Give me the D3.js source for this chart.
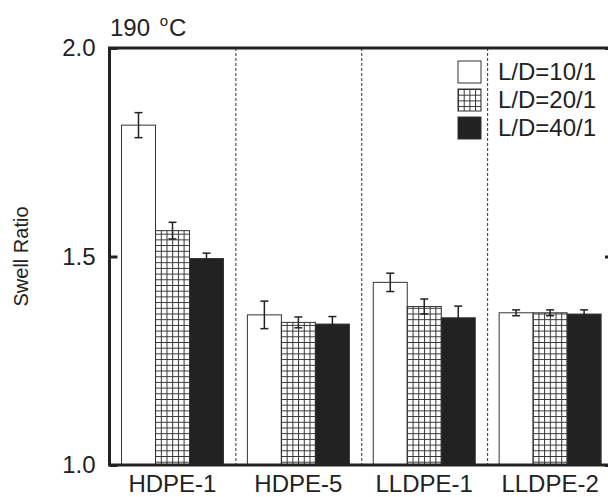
<!DOCTYPE html>
<html lang="en">
<head>
    <meta charset="UTF-8">
    <title>Swell Ratio</title>
    <script src="https://d3js.org/d3.v7.min.js"></script>
    <style>
        body { margin: 0; background: #fff; }
        text { font-family: "Liberation Sans", Arial, sans-serif; fill: #222; }
    </style>
</head>
<body>
    <div id="plot-container"></div>

    <script>
        // data
        const categories = ["HDPE-1", "HDPE-5", "LLDPE-1", "LLDPE-2"];
        const seriesNames = ["L/D=10/1", "L/D=20/1", "L/D=40/1"];
        const ld10 = [1.815, 1.360, 1.438, 1.365];
        const ld10Err = [0.030, 0.033, 0.022, 0.007];
        const ld20 = [1.562, 1.342, 1.380, 1.365];
        const ld20Err = [0.020, 0.013, 0.018, 0.007];
        const ld40 = [1.495, 1.338, 1.353, 1.362];
        const ld40Err = [0.013, 0.018, 0.028, 0.010];
        const yTicks = [1.0, 1.5, 2.0];
        const titleText = "190 ";

        const values = [ld10, ld20, ld40];
        const errors = [ld10Err, ld20Err, ld40Err];

        const width = 608, height = 497;
        const mLeft = 109.5, mRight = 613, mTop = 48, mBottom = 465;

        const svg = d3.select("#plot-container")
            .append("svg")
            .attr("width", width)
            .attr("height", height);

        // hatch pattern for the middle series
        const pat = svg.append("defs").append("pattern")
            .attr("id", "grid")
            .attr("patternUnits", "userSpaceOnUse")
            .attr("width", 5.7)
            .attr("height", 5.7);
        pat.append("rect").attr("width", 5.7).attr("height", 5.7).attr("fill", "#fff");
        pat.append("path")
            .attr("d", "M0.5,0V5.7M0,0.5H5.7")
            .attr("stroke", "#333")
            .attr("stroke-width", 1);

        const fills = ["#fff", "url(#grid)", "#222"];

        const x = d3.scaleBand().domain(categories).range([mLeft, mRight]);
        const xs = d3.scaleBand().domain(d3.range(seriesNames.length)).range([12, 114]);
        const y = d3.scaleLinear().domain([1, 2]).range([mBottom, mTop]);

        // dashed group separators
        svg.selectAll("line.sep")
            .data(categories.slice(1))
            .enter()
            .append("line")
            .attr("class", "sep")
            .attr("x1", d => x(d) + 0.5)
            .attr("x2", d => x(d) + 0.5)
            .attr("y1", mTop)
            .attr("y2", mBottom)
            .attr("stroke", "#333")
            .attr("stroke-width", 1)
            .attr("stroke-dasharray", "3,2");

        // bars
        const groups = svg.selectAll("g.grp")
            .data(categories)
            .enter()
            .append("g")
            .attr("class", "grp")
            .attr("transform", d => `translate(${x(d)},0)`);

        seriesNames.forEach((s, si) => {
            groups.append("rect")
                .attr("x", xs(si))
                .attr("width", xs.bandwidth())
                .attr("y", (d, i) => y(values[si][i]))
                .attr("height", (d, i) => y(1) - y(values[si][i]))
                .attr("fill", fills[si])
                .attr("stroke", "#333")
                .attr("stroke-width", 1);
        });

        // error bars
        seriesNames.forEach((s, si) => {
            groups.each(function (d, i) {
                const cx = xs(si) + xs.bandwidth() / 2;
                const hi = y(values[si][i] + errors[si][i]);
                const lo = y(values[si][i] - errors[si][i]);
                const g = d3.select(this).append("g")
                    .attr("stroke", "#222")
                    .attr("stroke-width", 1.5);
                g.append("line").attr("x1", cx).attr("x2", cx).attr("y1", hi).attr("y2", lo);
                g.append("line").attr("x1", cx - 4).attr("x2", cx + 4).attr("y1", hi).attr("y2", hi);
                g.append("line").attr("x1", cx - 4).attr("x2", cx + 4).attr("y1", lo).attr("y2", lo);
            });
        });

        // frame
        svg.append("rect")
            .attr("x", mLeft)
            .attr("y", mTop)
            .attr("width", mRight - mLeft)
            .attr("height", mBottom - mTop)
            .attr("fill", "none")
            .attr("stroke", "#222")
            .attr("stroke-width", 3);

        // left axis, ticks pointing inward
        const yAxis = svg.append("g")
            .attr("transform", `translate(${mLeft},0)`)
            .call(d3.axisLeft(y).tickValues(yTicks).tickFormat(d3.format(".1f"))
                .tickSizeInner(-8).tickSizeOuter(0).tickPadding(14));
        yAxis.select(".domain").remove();
        yAxis.selectAll("line").attr("stroke", "#222").attr("stroke-width", 3);
        yAxis.selectAll("text").style("font-size", "24px").attr("fill", "#222");

        // right axis ticks
        const yAxisR = svg.append("g")
            .attr("transform", `translate(${mRight},0)`)
            .call(d3.axisRight(y).tickValues(yTicks).tickFormat("")
                .tickSizeInner(-8).tickSizeOuter(0));
        yAxisR.select(".domain").remove();
        yAxisR.selectAll("line").attr("stroke", "#222").attr("stroke-width", 3);

        // category labels
        const xAxis = svg.append("g")
            .attr("transform", `translate(0,${mBottom})`)
            .call(d3.axisBottom(x).tickSize(0).tickPadding(10));
        xAxis.select(".domain").remove();
        xAxis.selectAll("text").style("font-size", "24px").attr("fill", "#222");

        // y label
        svg.append("text")
            .attr("transform", `translate(28,${y(1.5)}) rotate(-90)`)
            .attr("text-anchor", "middle")
            .style("font-size", "20px")
            .text("Swell Ratio");

        // title
        const t = svg.append("text")
            .attr("x", 110)
            .attr("y", 36)
            .style("font-size", "24px")
            .text(titleText);
        t.append("tspan").attr("dy", -10).attr("dx", 3).style("font-size", "15px").text("o");
        t.append("tspan").attr("dy", 10).attr("dx", 1).text("C");

        // legend
        const legend = svg.append("g")
            .selectAll("g")
            .data(seriesNames)
            .enter()
            .append("g")
            .attr("transform", (d, i) => `translate(458,${61 + i * 28})`);
        legend.append("rect")
            .attr("width", 23)
            .attr("height", 22)
            .attr("fill", (d, i) => fills[i])
            .attr("stroke", "#333")
            .attr("stroke-width", 1);
        legend.append("text")
            .attr("x", 40)
            .attr("y", 19)
            .style("font-size", "24px")
            .text(d => d);
    </script>
</body>
</html>
